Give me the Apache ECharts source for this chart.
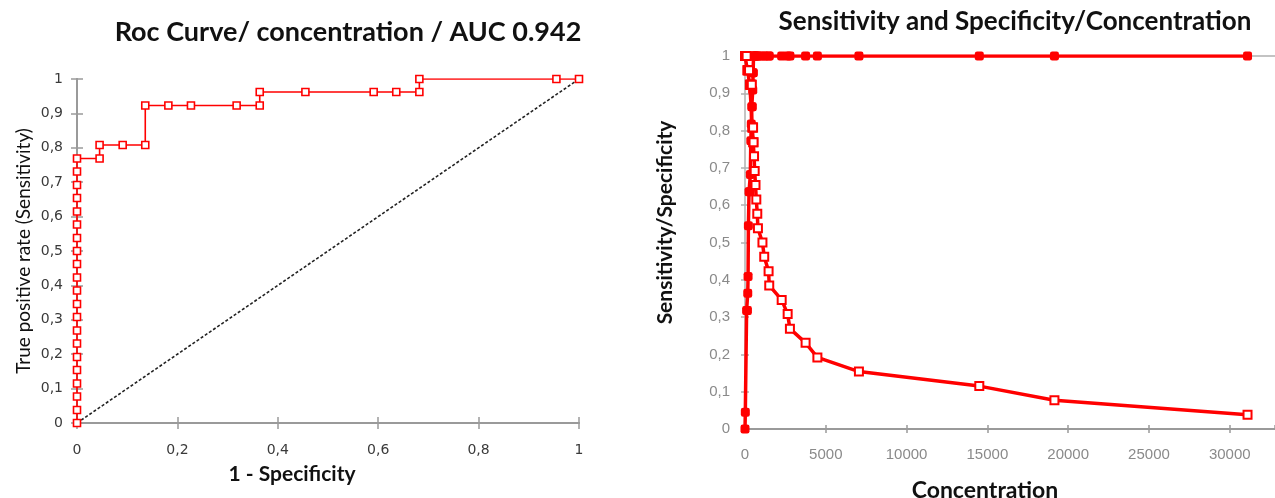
<!DOCTYPE html>
<html>
<head>
<meta charset="utf-8">
<script src="https://cdn.jsdelivr.net/npm/echarts@6/dist/echarts.min.js"></script>
<style>
  html, body { margin: 0; padding: 0; background: #fff; }
  #chart { width: 1275px; height: 498px; }
</style>
</head>
<body>
<div id="chart"></div>
<script>
// ---- Left chart: ROC curve ----
const rocFpr = [0, 0, 0, 0, 0, 0, 0, 0, 0, 0, 0, 0, 0, 0, 0, 0, 0, 0, 0, 0, 0,
  0.045, 0.045, 0.091, 0.136, 0.136, 0.182, 0.227, 0.318, 0.364, 0.364, 0.455, 0.591, 0.636, 0.682, 0.682, 0.955, 1];
const rocTpr = [0, 0.038, 0.077, 0.115, 0.154, 0.192, 0.231, 0.269, 0.308, 0.346, 0.385, 0.423, 0.462, 0.5, 0.538, 0.577, 0.615, 0.654, 0.692, 0.731, 0.769,
  0.769, 0.808, 0.808, 0.808, 0.923, 0.923, 0.923, 0.923, 0.923, 0.962, 0.962, 0.962, 0.962, 0.962, 1, 1, 1];
const refX = [0, 1];
const refY = [0, 1];

// ---- Right chart: sensitivity & specificity vs concentration ----
const concentration = [0, 20, 100, 150, 170, 190, 210, 250, 300, 330, 360, 390, 420, 450, 480, 500, 510, 530, 560, 600,
  650, 700, 760, 800, 1080, 1190, 1460, 1500, 2270, 2640, 2780, 3750, 4480, 7050, 14500, 19150, 31100];
const specificity = [0, 0.045, 0.318, 0.318, 0.364, 0.409, 0.545, 0.636, 0.636, 0.682, 0.773, 0.818, 0.864, 0.864, 0.909, 0.955, 0.955,
  1, 1, 1, 1, 1, 1, 1, 1, 1, 1, 1, 1, 1, 1, 1, 1, 1, 1, 1, 1];
const sensitivity = [1, 1, 1, 0.962, 0.962, 0.962, 0.962, 0.962, 0.923, 0.923, 0.923, 0.923, 0.923, 0.808, 0.808, 0.808, 0.769, 0.769,
  0.731, 0.692, 0.654, 0.615, 0.577, 0.538, 0.5, 0.462, 0.423, 0.385, 0.346, 0.308, 0.269, 0.231, 0.192, 0.154, 0.115, 0.077, 0.038];

const leftTitle = 'Roc Curve/ concentration / AUC 0.942';
const rightTitle = 'Sensitivity and Specificity/Concentration';

const zip = (a, b) => a.map((v, i) => [v, b[i]]);
const comma = v => String(+(+v).toFixed(2)).replace('.', ',');

const RED = '#ff0000';
const AXIS = '#9a9a9a';
const titleFont = 'Lato, "Open Sans", sans-serif';
const leftLabel = { fontFamily: '"DejaVu Sans", Verdana, sans-serif', fontSize: 14, color: '#3a3a3a' };
const rightLabel = { fontFamily: '"Liberation Sans Narrow", "Liberation Sans", sans-serif', fontSize: 15, color: '#8a8a8a' };

const chart = echarts.init(document.getElementById('chart'), null, { renderer: 'canvas' });

const hiddenAxis = {
  axisLabel: { show: false }, splitLine: { show: false }
};

chart.setOption({
  animation: false,
  backgroundColor: '#ffffff',
  title: [
    { text: leftTitle, left: 343, top: 14, textAlign: 'center',
      textStyle: { fontFamily: titleFont, fontWeight: 'bold', fontSize: 27, color: '#111' } },
    { text: rightTitle, left: 1010, top: 4, textAlign: 'center',
      textStyle: { fontFamily: titleFont, fontWeight: 'bold', fontSize: 26, color: '#111' } }
  ],
  grid: [
    { left: 77, right: 696, top: 79, bottom: 75, containLabel: false, outerBoundsMode: 'none' },
    { left: 745, right: 0, top: 56, bottom: 69, containLabel: false, outerBoundsMode: 'none' }
  ],
  xAxis: [
    { gridIndex: 0, type: 'value', position: 'bottom', min: 0, max: 1, interval: 0.2,
      name: '1 - Specificity', nameLocation: 'middle', nameGap: 41,
      nameTextStyle: { fontFamily: titleFont, fontWeight: 'bold', fontSize: 21, color: '#111', padding: [0, 72, 0, 0] },
      axisLine: { show: true, lineStyle: { color: AXIS, width: 2 } },
      axisTick: { show: true, inside: false, length: 6, lineStyle: { color: AXIS, width: 1.5 } },
      axisLabel: Object.assign({ margin: 20, formatter: comma }, leftLabel),
      splitLine: { show: false } },
    Object.assign({ gridIndex: 0, type: 'value', position: 'bottom', min: 0, max: 1, interval: 0.2,
      axisLine: { show: false }, axisTick: { show: true, inside: true, length: 6, lineStyle: { color: AXIS, width: 1.5 } } }, hiddenAxis),
    Object.assign({ gridIndex: 0, type: 'value', position: 'top', min: 0, max: 1,
      axisLine: { show: true, lineStyle: { color: AXIS, width: 2 } }, axisTick: { show: false } }, hiddenAxis),

    { gridIndex: 1, type: 'value', position: 'bottom', min: 0, max: 32800, interval: 5000,
      name: 'Concentration', nameLocation: 'middle', nameGap: 50,
      nameTextStyle: { fontFamily: titleFont, fontWeight: 'bold', fontSize: 23, color: '#111', padding: [0, 50, 0, 0] },
      axisLine: { show: true, lineStyle: { color: AXIS, width: 2 } },
      axisTick: { show: true, inside: false, length: 4, lineStyle: { color: AXIS, width: 1.5 } },
      axisLabel: Object.assign({ margin: 18, showMaxLabel: false, formatter: v => String(v) }, rightLabel),
      splitLine: { show: false } },
    Object.assign({ gridIndex: 1, type: 'value', position: 'bottom', min: 0, max: 32800, interval: 5000,
      axisLine: { show: false }, axisTick: { show: true, inside: true, length: 4, lineStyle: { color: AXIS, width: 1.5 } } }, hiddenAxis),
    Object.assign({ gridIndex: 1, type: 'value', position: 'top', min: 0, max: 32800,
      axisLine: { show: true, lineStyle: { color: '#b0b0b0', width: 1.5 } }, axisTick: { show: false } }, hiddenAxis)
  ],
  yAxis: [
    { gridIndex: 0, type: 'value', position: 'left', min: 0, max: 1, interval: 0.1,
      name: 'True positive rate (Sensitivity)', nameLocation: 'middle', nameGap: 44,
      nameTextStyle: { fontFamily: titleFont, fontSize: 19, color: '#111' },
      axisLine: { show: true, lineStyle: { color: AXIS, width: 2 } },
      axisTick: { show: true, inside: false, length: 6, lineStyle: { color: AXIS, width: 1.5 } },
      axisLabel: Object.assign({ margin: 14, formatter: comma }, leftLabel),
      splitLine: { show: false } },
    Object.assign({ gridIndex: 0, type: 'value', position: 'left', min: 0, max: 1, interval: 0.1,
      axisLine: { show: false }, axisTick: { show: true, inside: true, length: 6, lineStyle: { color: AXIS, width: 1.5 } } }, hiddenAxis),
    Object.assign({ gridIndex: 0, type: 'value', position: 'right', min: 0, max: 1,
      axisLine: { show: true, lineStyle: { color: AXIS, width: 2 } }, axisTick: { show: false } }, hiddenAxis),

    { gridIndex: 1, type: 'value', position: 'left', min: 0, max: 1, interval: 0.1,
      name: 'Sensitivity/Specificity', nameLocation: 'middle', nameGap: 69,
      nameTextStyle: { fontFamily: titleFont, fontWeight: 'bold', fontSize: 21, color: '#111', padding: [0, 0, 0, 40] },
      axisLine: { show: true, lineStyle: { color: '#b0b0b0', width: 1.5 } },
      axisTick: { show: true, inside: false, length: 4, lineStyle: { color: '#b0b0b0', width: 1.5 } },
      axisLabel: Object.assign({ margin: 15, formatter: comma }, rightLabel),
      splitLine: { show: false } },
    Object.assign({ gridIndex: 1, type: 'value', position: 'left', min: 0, max: 1, interval: 0.1,
      axisLine: { show: false }, axisTick: { show: true, inside: true, length: 4, lineStyle: { color: '#b0b0b0', width: 1.5 } } }, hiddenAxis)
  ],
  series: [
    { name: 'Reference', type: 'line', xAxisIndex: 0, yAxisIndex: 0, data: zip(refX, refY),
      symbol: 'none', lineStyle: { color: '#222', width: 1.6, type: [3, 2] }, z: 2 },
    { name: 'ROC', type: 'line', xAxisIndex: 0, yAxisIndex: 0, data: zip(rocFpr, rocTpr),
      symbol: 'rect', symbolSize: 7,
      itemStyle: { color: '#fff', borderColor: RED, borderWidth: 1.6 },
      lineStyle: { color: RED, width: 1.6 }, z: 3 },
    { name: 'Specificity', type: 'line', xAxisIndex: 3, yAxisIndex: 3, data: zip(concentration, specificity),
      symbol: 'roundRect', symbolSize: 9,
      itemStyle: { color: RED, borderColor: RED, borderWidth: 0 },
      lineStyle: { color: RED, width: 3.5 }, z: 3 },
    { name: 'Sensitivity', type: 'line', xAxisIndex: 3, yAxisIndex: 3, data: zip(concentration, sensitivity),
      symbol: 'rect', symbolSize: 8,
      itemStyle: { color: '#fff', borderColor: RED, borderWidth: 2 },
      lineStyle: { color: RED, width: 3.5 }, z: 4 }
  ]
});
</script>
</body>
</html>
